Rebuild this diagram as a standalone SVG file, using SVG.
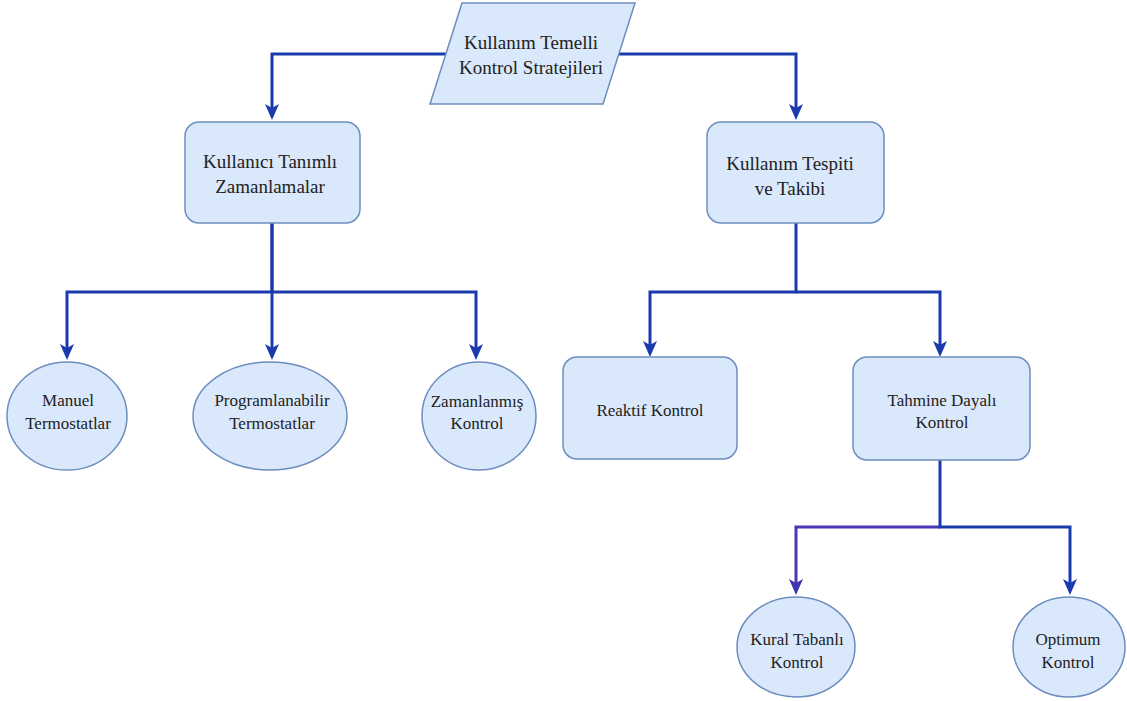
<svg xmlns="http://www.w3.org/2000/svg" width="1127" height="701" viewBox="0 0 1127 701">
  <style>
    .shape { fill: #dae8fc; stroke: #6c8ebf; stroke-width: 1.5; }
    .lbl { fill: #222; text-anchor: middle; }
    .big { font-size: 19px; }
    .mid { font-size: 17px; }
    .edge { fill: none; stroke: #1a3aad; stroke-width: 3; }
    .edge.violet { stroke: #4b36b8; }
  </style>
  <defs>
    <marker id="arrow" viewBox="0 0 16 14" refX="8" refY="7" markerWidth="16" markerHeight="14" markerUnits="userSpaceOnUse" orient="auto">
      <path d="M0,0 L16,7 L0,14 L4,7 z" fill="#1a3aad"/>
    </marker>
    <marker id="arrowViolet" viewBox="0 0 16 14" refX="8" refY="7" markerWidth="16" markerHeight="14" markerUnits="userSpaceOnUse" orient="auto">
      <path d="M0,0 L16,7 L0,14 L4,7 z" fill="#3f35b0"/>
    </marker>
  </defs>
  <rect width="1127" height="701" fill="#ffffff"/>

  <g id="connectors">
    <!-- root to first level -->
    <path class="edge" d="M446,54 H272 V112" marker-end="url(#arrow)"/>
    <path class="edge" d="M619,54 H796 V112" marker-end="url(#arrow)"/>
    <!-- Kullanıcı Tanımlı Zamanlamalar to ellipses -->
    <path class="edge" d="M272,223 V292 H67 V352" marker-end="url(#arrow)"/>
    <path class="edge" d="M272,223 V352" marker-end="url(#arrow)"/>
    <path class="edge" d="M272,292 H476 V352" marker-end="url(#arrow)"/>
    <!-- Kullanım Tespiti ve Takibi to boxes -->
    <path class="edge" d="M796,223 V292 H650 V349" marker-end="url(#arrow)"/>
    <path class="edge" d="M796,292 H940 V349" marker-end="url(#arrow)"/>
    <!-- Tahmine Dayalı Kontrol to ellipses -->
    <path class="edge violet" d="M940,527 H796 V587" marker-end="url(#arrowViolet)"/>
    <path class="edge" d="M940,460 V527 H1070 V587" marker-end="url(#arrow)"/>
  </g>

  <g font-family="Liberation Serif, Tinos, Noto Serif, DejaVu Serif, Times New Roman, Times, serif">
  <g id="root">
    <polygon class="shape" points="462,3 635,3 603,104 430,104"/>
    <text class="lbl big" x="531" y="49">Kullanım Temelli</text>
    <text class="lbl big" x="531" y="74">Kontrol Stratejileri</text>
  </g>

  <g id="kullanici-tanimli">
    <rect class="shape" x="185" y="122" width="175" height="101" rx="14"/>
    <text class="lbl big" x="270" y="168">Kullanıcı Tanımlı</text>
    <text class="lbl big" x="270" y="193">Zamanlamalar</text>
  </g>

  <g id="kullanim-tespiti">
    <rect class="shape" x="707" y="122" width="177" height="101" rx="14"/>
    <text class="lbl big" x="790" y="170">Kullanım Tespiti</text>
    <text class="lbl big" x="790" y="195">ve Takibi</text>
  </g>

  <g id="manuel">
    <ellipse class="shape" cx="67" cy="416" rx="60" ry="54"/>
    <text class="lbl mid" x="68" y="406">Manuel</text>
    <text class="lbl mid" x="68" y="429">Termostatlar</text>
  </g>

  <g id="programlanabilir">
    <ellipse class="shape" cx="270" cy="416" rx="77" ry="54"/>
    <text class="lbl mid" x="272" y="406">Programlanabilir</text>
    <text class="lbl mid" x="272" y="429">Termostatlar</text>
  </g>

  <g id="zamanlanmis">
    <ellipse class="shape" cx="479" cy="416" rx="57" ry="54"/>
    <text class="lbl mid" x="477" y="407">Zamanlanmış</text>
    <text class="lbl mid" x="477" y="429">Kontrol</text>
  </g>

  <g id="reaktif">
    <rect class="shape" x="563" y="357" width="174" height="102" rx="14"/>
    <text class="lbl mid" x="650" y="416">Reaktif Kontrol</text>
  </g>

  <g id="tahmine-dayali">
    <rect class="shape" x="853" y="357" width="177" height="103" rx="14"/>
    <text class="lbl mid" x="942" y="406">Tahmine Dayalı</text>
    <text class="lbl mid" x="942" y="428">Kontrol</text>
  </g>

  <g id="kural-tabanli">
    <ellipse class="shape" cx="796" cy="647" rx="59" ry="50"/>
    <text class="lbl mid" x="797" y="645">Kural Tabanlı</text>
    <text class="lbl mid" x="797" y="668">Kontrol</text>
  </g>

  <g id="optimum">
    <ellipse class="shape" cx="1069" cy="647" rx="56" ry="50"/>
    <text class="lbl mid" x="1068" y="645">Optimum</text>
    <text class="lbl mid" x="1068" y="668">Kontrol</text>
  </g>
  </g>
</svg>
